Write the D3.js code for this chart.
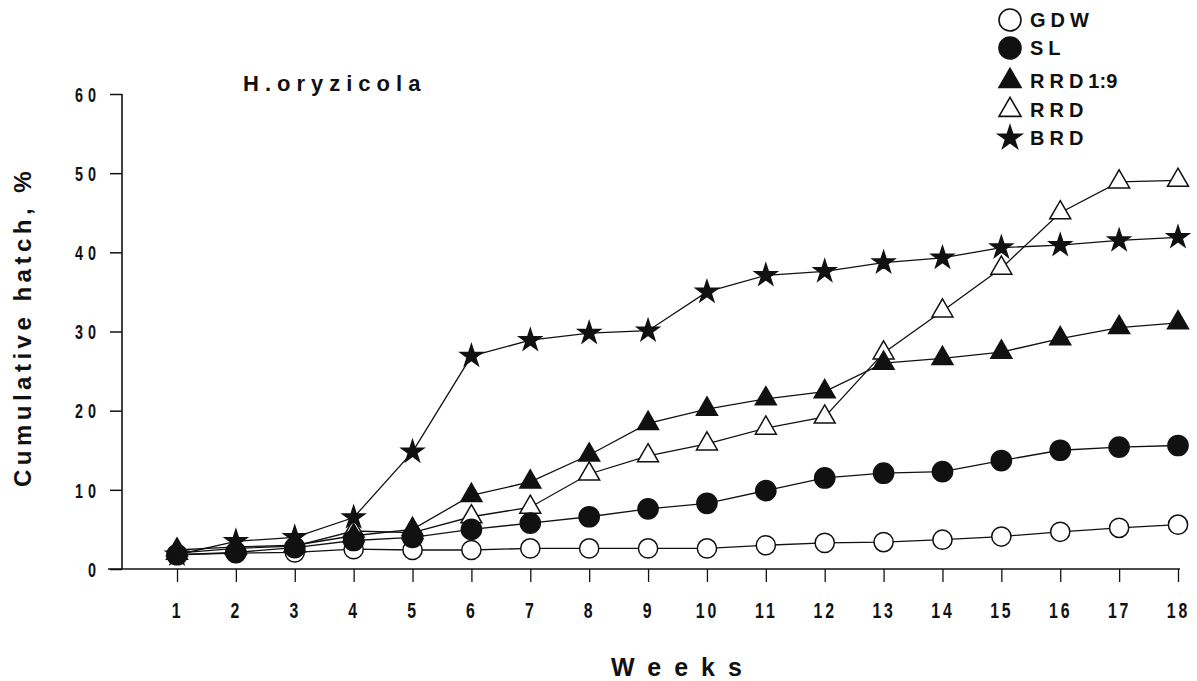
<!DOCTYPE html>
<html>
<head>
<meta charset="utf-8">
<script src="https://cdn.jsdelivr.net/npm/d3@7"></script>
<style>
  body { margin: 0; background: #fff; }
  svg { display: block; }
  text { font-family: "Liberation Sans", Arial, sans-serif; font-weight: bold; fill: #111; }
</style>
</head>
<body>
<svg id="chart" width="1197" height="681"></svg>
<script>
const weeks = [1,2,3,4,5,6,7,8,9,10,11,12,13,14,15,16,17,18];
const yTicks = [0,10,20,30,40,50,60];
const seriesNames = ["GDW", "SL", "RRD 1:9", "RRD", "BRD"];
const gdw   = [1.8, 2.0, 2.1, 2.5, 2.4, 2.4, 2.6, 2.6, 2.6, 2.6, 3.0, 3.3, 3.4, 3.7, 4.1, 4.7, 5.2, 5.6];
const sl    = [1.8, 2.1, 2.7, 3.6, 4.0, 5.0, 5.8, 6.6, 7.6, 8.3, 9.9, 11.5, 12.1, 12.3, 13.7, 15.0, 15.4, 15.6];
const rrd19 = [2.4, 2.8, 3.0, 4.2, 5.0, 9.3, 11.0, 14.4, 18.4, 20.2, 21.5, 22.4, 26.0, 26.6, 27.4, 29.1, 30.5, 31.1];
const rrd   = [2.0, 2.6, 2.9, 4.8, 4.6, 6.6, 7.8, 12.0, 14.3, 15.8, 17.8, 19.2, 27.3, 32.6, 38.0, 45.0, 48.9, 49.1];
const brd   = [1.8, 3.5, 4.0, 6.5, 14.8, 26.9, 28.9, 29.8, 30.1, 35.0, 37.1, 37.6, 38.7, 39.3, 40.6, 40.9, 41.5, 41.9];

const svg = d3.select("#chart");
const x = d3.scaleLinear().domain([1, 18]).range([177, 1178]);
const y = d3.scaleLinear().domain([0, 60]).range([569, 94]);

const styles = {
  "GDW":     {data: gdw,   sym: d3.symbolCircle,   size: 290, fill: "#fff"},
  "SL":      {data: sl,    sym: d3.symbolCircle,   size: 320, fill: "#111"},
  "RRD 1:9": {data: rrd19, sym: d3.symbolTriangle, size: 190, fill: "#111"},
  "RRD":     {data: rrd,   sym: d3.symbolTriangle, size: 190, fill: "#fff"},
  "BRD":     {data: brd,   sym: d3.symbolStar,     size: 150, fill: "#111"}
};
const drawOrder = ["RRD", "GDW", "RRD 1:9", "SL", "BRD"];

const sx = 0.72; // horizontal squeeze for the condensed digits

// y axis
const yAxis = d3.axisLeft(y).tickValues(yTicks).tickSize(12).tickFormat(d => String(d));
const gy = svg.append("g").attr("transform", "translate(122,0)").call(yAxis);
gy.select(".domain").remove();
gy.selectAll(".tick line").attr("stroke", "#111").attr("stroke-width", 1.5);
gy.selectAll(".tick text")
  .attr("x", -21 / sx).attr("font-size", 20).attr("fill", "#111").attr("dy", "0.36em")
  .attr("letter-spacing", 7).attr("transform", `scale(${sx},1)`);
svg.append("line").attr("x1", 122).attr("x2", 122).attr("y1", y(60)).attr("y2", y(0)).attr("stroke", "#111").attr("stroke-width", 1.6);

// x axis
const xAxis = d3.axisBottom(x).tickValues(weeks).tickSize(13).tickFormat(d => String(d));
const gx = svg.append("g").attr("transform", `translate(0,${y(0)})`).call(xAxis);
gx.select(".domain").remove();
gx.selectAll(".tick line").attr("stroke", "#111").attr("stroke-width", 1.3);
gx.selectAll(".tick text")
  .attr("y", 49).attr("dy", 0).attr("font-size", 22).attr("fill", "#111")
  .attr("letter-spacing", 4).attr("transform", `scale(${sx},1)`);
svg.append("line").attr("x1", 108).attr("x2", x(18) + 2).attr("y1", y(0)).attr("y2", y(0)).attr("stroke", "#111").attr("stroke-width", 1.6);

// lines
const line = d3.line().x((d, i) => x(weeks[i])).y(d => y(d));
drawOrder.forEach(name => {
  svg.append("path").datum(styles[name].data).attr("d", line)
    .attr("fill", "none").attr("stroke", "#111").attr("stroke-width", 1.3);
});
// markers
drawOrder.forEach(name => {
  const s = styles[name];
  svg.append("g").selectAll("path").data(s.data).join("path")
    .attr("d", d3.symbol(s.sym, s.size))
    .attr("transform", (d, i) => `translate(${x(weeks[i])},${y(d)})`)
    .attr("fill", s.fill).attr("stroke", "#111").attr("stroke-width", 1.5);
});

// title
svg.append("text").attr("x", 243).attr("y", 91).attr("font-size", 22).attr("letter-spacing", 6).text("H.oryzicola");

// axis titles
svg.append("text").attr("transform", "translate(31,327) rotate(-90)").attr("text-anchor", "middle")
  .attr("font-size", 24).attr("letter-spacing", 4.5).text("Cumulative hatch, %");
svg.append("text").attr("x", 683).attr("y", 676).attr("text-anchor", "middle")
  .attr("font-size", 25).attr("letter-spacing", 13).text("Weeks");

// legend
const legendY = [20, 48, 81, 110, 138];
const lg = svg.append("g");
seriesNames.forEach((name, i) => {
  const s = styles[name];
  const big = s.sym === d3.symbolCircle ? 380 : (s.sym === d3.symbolTriangle ? 210 : 170);
  lg.append("path").attr("d", d3.symbol(s.sym, big))
    .attr("transform", `translate(1010,${legendY[i]})`)
    .attr("fill", s.fill).attr("stroke", "#111").attr("stroke-width", 1.6);
  const t = lg.append("text").attr("x", 1030).attr("y", legendY[i]).attr("dy", "0.36em")
    .attr("font-size", 20).attr("letter-spacing", 5);
  const parts = name.split(" ");
  t.append("tspan").text(parts[0]);
  if (parts[1]) t.append("tspan").attr("letter-spacing", 0).attr("dx", 0).text(parts[1]);
});
</script>
</body>
</html>
